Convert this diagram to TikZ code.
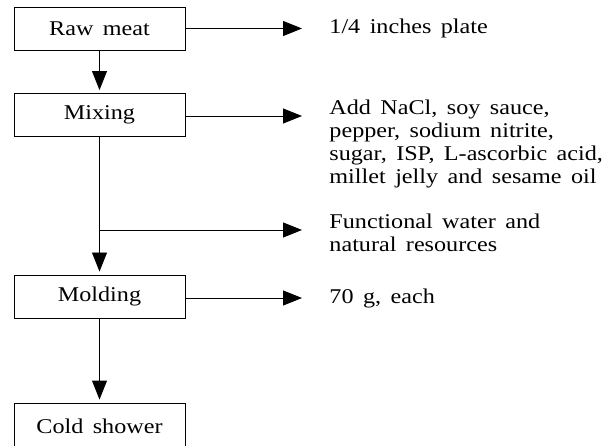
\documentclass[tikz,border=0pt]{standalone}
\usepackage{fontspec}
\setmainfont{Liberation Serif}[FakeStretch=1.15]
\usetikzlibrary{positioning,arrows.meta,calc}
\newcommand\flowfont{\fontsize{21}{23}\selectfont\baselineskip=23pt\spaceskip=0.45em\relax}
\tikzset{
  stepbox/.style={draw,line width=0.9pt,minimum width=171pt,minimum height=43pt,inner sep=0pt},
  note/.style={anchor=west,align=left,inner sep=0pt},
  longnote/.style={note,anchor=north west}
}
\begin{document}
\begin{tikzpicture}[>={Triangle[length=19pt,width=15pt]},x=1pt,y=-1pt,line width=0.9pt,font=\flowfont]
\clip (0,0) rectangle (616,446);
\fill[white] (0,0) rectangle (616,446);
\node[stepbox] (raw) at (99.5,28.5) {Raw meat};
\node[stepbox] (mixing) at (99.5,115) {Mixing};
\node[stepbox] (molding) at (99.5,296.5) {Molding};
\node[stepbox,minimum height=46pt] (cold) at (99.5,426) {Cold shower};
\coordinate (r1) at (302,28.5);
\coordinate (r2) at (302,116);
\coordinate (r3) at (302,230);
\coordinate (r4) at (302,298);
\coordinate (br) at (99.5,230);
% texts on the right
\node[note,right=27pt of r1] (plate) {1/4 inches plate};
\node[longnote] (add) at ($(r2)+(27,-17)$) {Add NaCl, soy sauce,\\pepper, sodium nitrite,\\sugar, ISP, L-ascorbic acid,\\millet jelly and sesame oil};
\node[longnote] (water) at ($(r3)+(27,-17)$) {Functional water and\\natural resources};
\node[note,right=27pt of r4] (each) {70 g, each};
% connectors
\draw[->] (raw) -- (r1);
\draw[->] (mixing.east |- r2) -- (r2);
\draw[->] (br) -- (r3);
\draw[->] (molding.east |- r4) -- (r4);
\draw[->,shorten >=3pt] (raw) -- (mixing);
\draw (mixing) -- (br);
\draw[->,shorten >=3pt] (br) -- (molding);
\draw[->,shorten >=3pt] (molding) -- (cold);
\end{tikzpicture}
\end{document}
